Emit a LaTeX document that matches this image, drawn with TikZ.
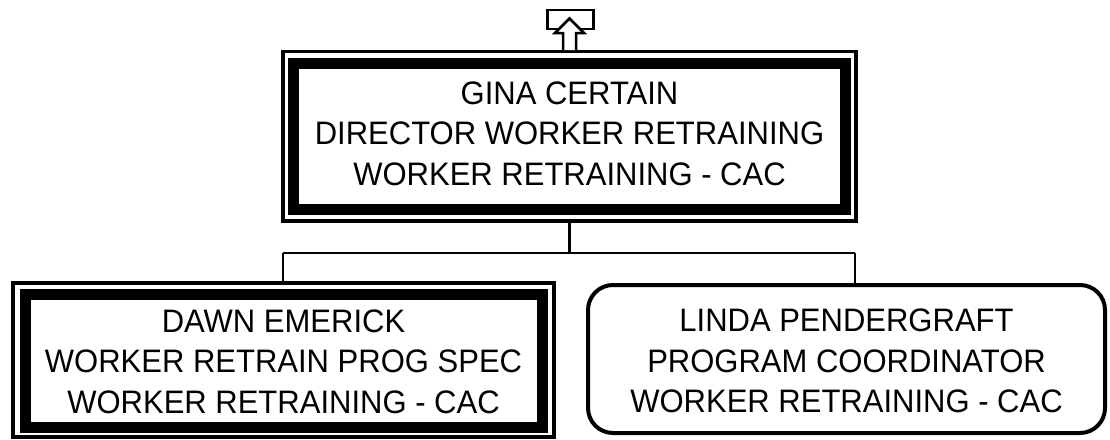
\documentclass[tikz,border=0pt]{standalone}
\usepackage{fontspec}
\setmainfont{Liberation Sans}
\newfontfamily\boxfont[FakeStretch=0.954]{Liberation Sans}
\begin{document}
\begin{tikzpicture}[x=1pt,y=-1pt,
  thinframe/.style={draw, line width=3.5pt, inner sep=0pt, outer sep=0pt},
  thickframe/.style={draw, line width=11pt, inner sep=0pt, outer sep=0pt},
  roundframe/.style={draw, line width=4pt, rounded corners=25pt, inner sep=0pt, outer sep=0pt},
  label/.style={align=center, inner sep=0pt, font=\boxfont\fontsize{32.5}{40.5}\selectfont},
  conn/.style={draw, line width=2.5pt},
  icon/.style={draw, line width=2.5pt, fill=white, line join=miter}]
\useasboundingbox (0,0) rectangle (1110,439);
% top box
\node[thinframe, minimum width=573pt, minimum height=169.5pt] (ginaout) at (569.5,136.25) {};
\node[thickframe, minimum width=551.5pt, minimum height=146.5pt] (gina) at (569.25,136.25) {};
\node[label] (ginatext) at (569.5,133.5)
  {GINA CERTAIN\\DIRECTOR WORKER RETRAINING\\WORKER RETRAINING - CAC};
% left box
\node[thinframe, minimum width=541pt, minimum height=154pt] (dawnout) at (283.5,360) {};
\node[thickframe, minimum width=516.5pt, minimum height=133.5pt] (dawn) at (283.75,360.75) {};
\node[label] (dawntext) at (283.5,361.5)
  {DAWN EMERICK\\WORKER RETRAIN PROG SPEC\\WORKER RETRAINING - CAC};
% right box
\node[roundframe, minimum width=517pt, minimum height=148pt] (linda) at (846.5,359) {};
\node[label] (lindatext) at (846.5,361)
  {LINDA PENDERGRAFT\\PROGRAM COORDINATOR\\WORKER RETRAINING - CAC};
% connectors
\coordinate (busL) at (283,253);
\coordinate (busR) at (855,253);
\draw[conn] (ginaout.south) -- (ginaout.south |- busL);
\draw[conn] (busL) -- (busR);
\draw[conn] (busL) -- (busL |- dawnout.north);
\draw[conn] (busR) -- (busR |- linda.north);
% icon above top box
\node[icon, minimum width=46pt, minimum height=19pt, inner sep=0pt] (iconbox) at (570.5,19.5) {};
\draw[icon] (563,50) -- (563,33) -- (555,33) -- (569.5,18.5) -- (584,33) -- (576,33) -- (576,50);
\end{tikzpicture}
\end{document}
